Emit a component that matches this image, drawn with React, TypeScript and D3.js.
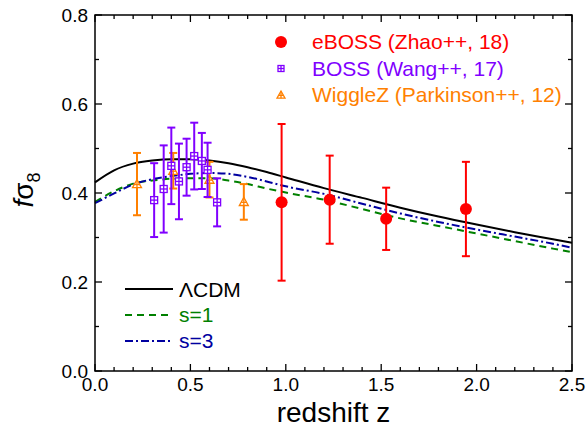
import React from "react";
import * as d3 from "d3";

const zCurve = [0, 0.1, 0.2, 0.3, 0.4, 0.5, 0.6, 0.7, 0.8, 0.9, 1.0, 1.2, 1.4, 1.6, 1.8, 2.0, 2.2, 2.4, 2.5];
const lcdm = [0.424, 0.451, 0.466, 0.473, 0.476, 0.476, 0.473, 0.467, 0.458, 0.447, 0.435, 0.411, 0.389, 0.367, 0.347, 0.329, 0.312, 0.296, 0.288];
const s1 = [0.380, 0.404, 0.421, 0.428, 0.432, 0.433, 0.433, 0.428, 0.420, 0.410, 0.401, 0.385, 0.364, 0.343, 0.326, 0.309, 0.292, 0.275, 0.267];
const s3 = [0.377, 0.399, 0.419, 0.431, 0.438, 0.443, 0.445, 0.443, 0.436, 0.426, 0.415, 0.398, 0.376, 0.354, 0.335, 0.318, 0.302, 0.286, 0.277];

const eZ = [0.978, 1.23, 1.526, 1.944];
const eF = [0.379, 0.385, 0.342, 0.364];
const eErr = [0.176, 0.099, 0.070, 0.106];

const bZ = [0.31, 0.36, 0.40, 0.44, 0.48, 0.52, 0.56, 0.59, 0.64];
const bF = [0.384, 0.409, 0.461, 0.426, 0.458, 0.483, 0.472, 0.452, 0.379];
const bErr = [0.083, 0.098, 0.086, 0.085, 0.064, 0.075, 0.063, 0.061, 0.054];

const wZ = [0.22, 0.41, 0.60, 0.78];
const wF = [0.42, 0.45, 0.43, 0.38];
const wErr = [0.07, 0.04, 0.04, 0.04];

const xTicks = [0, 0.5, 1.0, 1.5, 2.0, 2.5];
const yTicks = [0, 0.2, 0.4, 0.6, 0.8];

const RED = "#ff0000";
const PURPLE = "#8000ff";
const ORANGE = "#ff8000";
const GREEN = "#008000";
const BLUE = "#0000a0";
const FONT = "Liberation Sans, Arial, sans-serif";

const L = 95, R = 572, T = 15, B = 371;

export default function App() {
  const x = d3.scaleLinear().domain([0, 2.5]).range([L, R]);
  const y = d3.scaleLinear().domain([0, 0.8]).range([B, T]);
  const line = (vals: number[]) =>
    d3.line<number>().x((_, i) => x(zCurve[i])).y((v) => y(v)).curve(d3.curveMonotoneX)(vals) || "";

  const minorX = d3.range(0, 2.5001, 0.1);
  const minorY = d3.range(0, 0.8001, 0.1);

  const errBar = (z: number, f: number, e: number, color: string, key: string, cap = 4) => (
    <g key={key} stroke={color} strokeWidth={2}>
      <line x1={x(z)} x2={x(z)} y1={y(f - e)} y2={y(f + e)} />
      <line x1={x(z) - cap} x2={x(z) + cap} y1={y(f - e)} y2={y(f - e)} />
      <line x1={x(z) - cap} x2={x(z) + cap} y1={y(f + e)} y2={y(f + e)} />
    </g>
  );

  const bossMarker = (cx: number, cy: number, key: string, s = 3.5) => (
    <g key={key} stroke={PURPLE} strokeWidth={1.3} fill="white">
      <rect x={cx - s} y={cy - s} width={2 * s} height={2 * s} />
      <line x1={cx - s} x2={cx + s} y1={cy} y2={cy} />
      <line x1={cx} x2={cx} y1={cy - s} y2={cy + s} />
    </g>
  );

  const wigMarker = (cx: number, cy: number, key: string, s = 4.5) => (
    <g key={key} stroke={ORANGE} strokeWidth={1.3} fill="white">
      <path d={`M${cx},${cy - s}L${cx + s},${cy + s * 0.8}L${cx - s},${cy + s * 0.8}Z`} />
      <line x1={cx} x2={cx} y1={cy - s} y2={cy + s * 0.8} />
      <line x1={cx - s * 0.6} x2={cx + s * 0.6} y1={cy + 0.1 * s} y2={cy + 0.1 * s} />
    </g>
  );

  return (
    <svg width={587} height={435} style={{ position: "absolute", left: 0, top: 0, background: "white" }} fontFamily={FONT}>
      <rect x={0} y={0} width={587} height={435} fill="white" />
      {/* curves */}
      <path d={line(lcdm)} fill="none" stroke="black" strokeWidth={2} />
      <path d={line(s1)} fill="none" stroke={GREEN} strokeWidth={2} strokeDasharray="7,5" />
      <path d={line(s3)} fill="none" stroke={BLUE} strokeWidth={2} strokeDasharray="8,3,2,3" />

      {/* WiggleZ */}
      {wZ.map((z, i) => errBar(z, wF[i], wErr[i], ORANGE, "we" + i))}
      {wZ.map((z, i) => wigMarker(x(z), y(wF[i]), "wm" + i))}
      {/* BOSS */}
      {bZ.map((z, i) => errBar(z, bF[i], bErr[i], PURPLE, "be" + i))}
      {bZ.map((z, i) => bossMarker(x(z), y(bF[i]), "bm" + i))}
      {/* eBOSS */}
      {eZ.map((z, i) => errBar(z, eF[i], eErr[i], RED, "ee" + i))}
      {eZ.map((z, i) => <circle key={"ec" + i} cx={x(z)} cy={y(eF[i])} r={6} fill={RED} />)}

      {/* frame */}
      <rect x={L} y={T} width={R - L} height={B - T} fill="none" stroke="black" strokeWidth={1.5} />
      {minorX.map((v, i) => {
        const major = Math.abs(v * 2 - Math.round(v * 2)) < 1e-6;
        const len = major ? 7 : 4;
        return (
          <g key={"xt" + i} stroke="black" strokeWidth={1.3}>
            <line x1={x(v)} x2={x(v)} y1={B} y2={B - len} />
            <line x1={x(v)} x2={x(v)} y1={T} y2={T + len} />
          </g>
        );
      })}
      {minorY.map((v, i) => {
        const major = i % 2 === 0;
        const len = major ? 7 : 4;
        return (
          <g key={"yt" + i} stroke="black" strokeWidth={1.3}>
            <line x1={L} x2={L + len} y1={y(v)} y2={y(v)} />
            <line x1={R} x2={R - len} y1={y(v)} y2={y(v)} />
          </g>
        );
      })}
      {xTicks.map((v) => (
        <text key={"xl" + v} x={x(v)} y={391} fontSize={19} textAnchor="middle" fill="black">
          {v.toFixed(1)}
        </text>
      ))}
      {yTicks.map((v) => (
        <text key={"yl" + v} x={88} y={y(v) + 6.5} fontSize={19} textAnchor="end" fill="black">
          {v.toFixed(1)}
        </text>
      ))}
      <text x={(L + R) / 2} y={422} fontSize={28} textAnchor="middle" fill="black">
        redshift z
      </text>
      <text transform="translate(33,190) rotate(-90)" fontSize={28} textAnchor="middle" fill="black">
        <tspan fontStyle="italic">f</tspan>
        <tspan>σ</tspan>
        <tspan fontSize={18} dy={7}>8</tspan>
      </text>

      {/* top-right legend */}
      <circle cx={281} cy={42} r={6} fill={RED} />
      <text x={312} y={49} fontSize={21} fill={RED}>eBOSS (Zhao++, 18)</text>
      {bossMarker(281, 68.5, "lb", 3)}
      <text x={312} y={76} fontSize={21} fill={PURPLE}>BOSS (Wang++, 17)</text>
      {wigMarker(281, 95, "lw", 4)}
      <text x={312} y={102} fontSize={21} fill={ORANGE}>WiggleZ (Parkinson++, 12)</text>

      {/* bottom-left legend */}
      <line x1={125} x2={173} y1={289} y2={289} stroke="black" strokeWidth={2} />
      <text x={179} y={297} fontSize={21} fill="black">ΛCDM</text>
      <line x1={125} x2={173} y1={315} y2={315} stroke={GREEN} strokeWidth={2} strokeDasharray="7,5" />
      <text x={179} y={322} fontSize={21} fill={GREEN}>s=1</text>
      <line x1={125} x2={173} y1={341} y2={341} stroke={BLUE} strokeWidth={2} strokeDasharray="8,3,2,3" />
      <text x={179} y={348} fontSize={21} fill={BLUE}>s=3</text>
    </svg>
  );
}
